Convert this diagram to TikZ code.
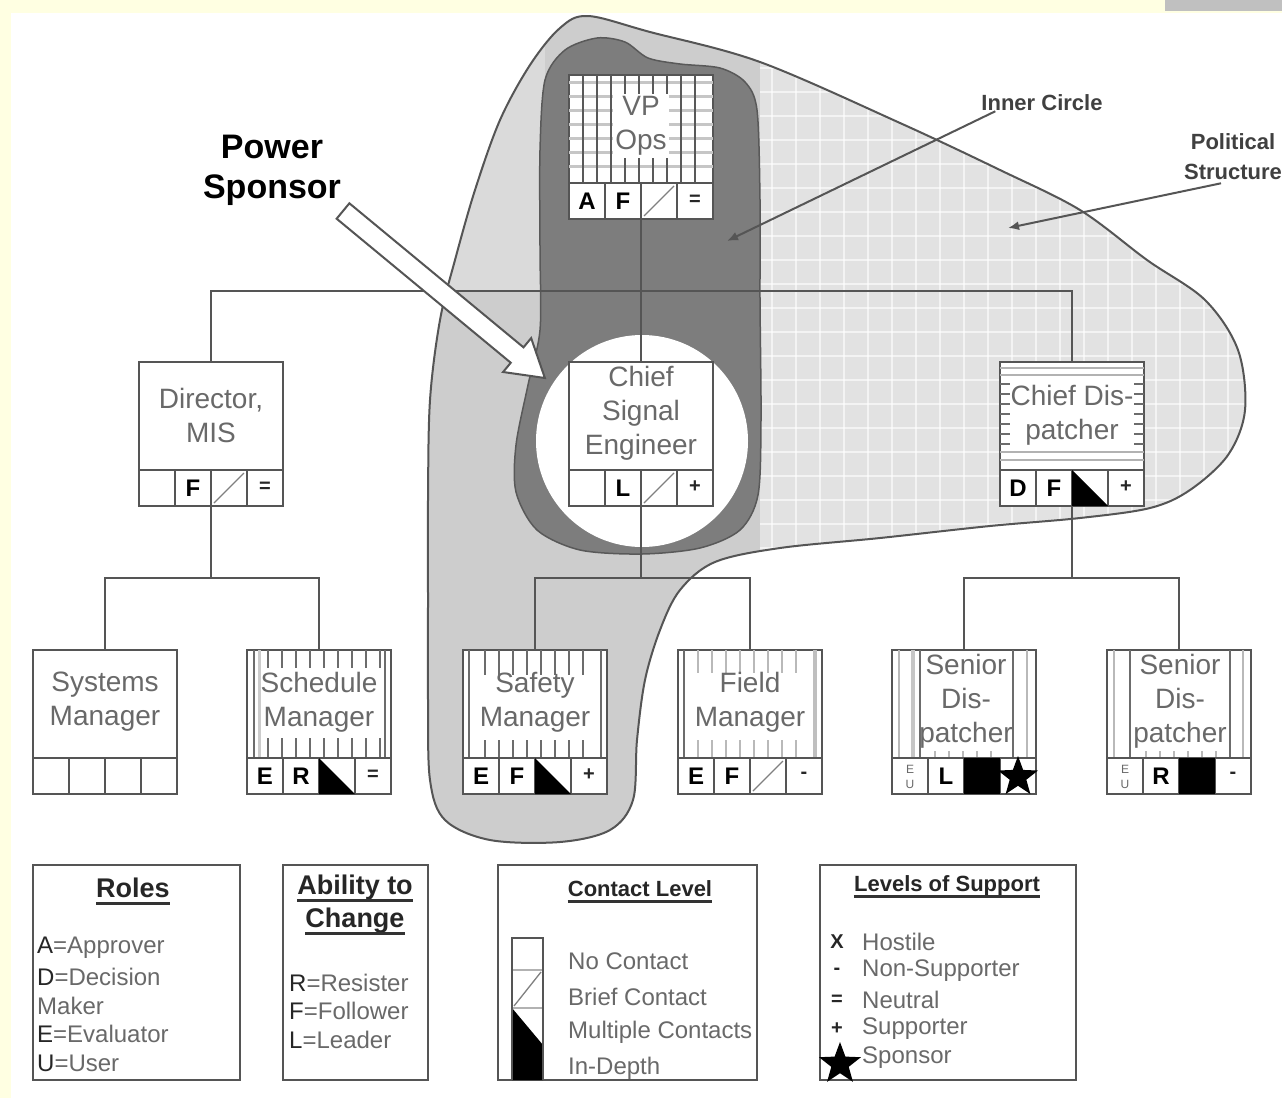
\documentclass[tikz,border=0pt]{standalone}
\usepackage{fontspec}
\setmainfont{Liberation Sans}
\usetikzlibrary{shapes.geometric,arrows.meta,calc}
\definecolor{bgyellow}{RGB}{255,255,226}
\definecolor{barg}{RGB}{192,192,192}
\definecolor{linec}{RGB}{85,85,85}
\definecolor{txtc}{RGB}{105,105,105}
\definecolor{blobA}{RGB}{205,205,205}
\definecolor{blobB}{RGB}{226,226,226}
\definecolor{blobC}{RGB}{218,218,218}
\definecolor{innerc}{RGB}{125,125,125}
\newcommand\fs[2]{\fontsize{#1}{#2}\selectfont}
\tikzset{
  conn/.style={draw=linec, line width=2},
  obox/.style={draw=linec, line width=2.5, fill=white, minimum width=144, minimum height=144, inner sep=0, outer sep=0, anchor=north west},
  cellline/.style={draw=linec, line width=2.5},
  slashl/.style={draw=gray, line width=1.3},
  lbl/.style={text=txtc, font=\fs{28}{34}, align=center, inner sep=1},
  cellt/.style={font=\bfseries\fs{24}{24}, text=black, inner sep=0},
  symt/.style={font=\bfseries\fs{20}{20}, text=black!85, inner sep=0},
  eut/.style={font=\fs{12}{15}, text=txtc, align=center, inner sep=0},
  legbox/.style={draw=linec, line width=2.5, fill=white, inner sep=0, outer sep=0, anchor=north west},
  legtitle/.style={font=\bfseries\fs{27}{33}, text=black!85, inner sep=0},
  legtitles/.style={font=\bfseries\fs{22}{26}, text=black!85, inner sep=0},
  legitem/.style={font=\fs{24}{29}, text=txtc, inner sep=0, anchor=west},
  uline/.style={draw=black!80, line width=3},
  pointer/.style={draw=linec, line width=2, -{Latex[length=11pt,width=9pt]}},
  ptlabel/.style={font=\bfseries\fs{22}{30}, text=black!75, align=center, inner sep=0},
  tick/.style={draw=gray!85!black, line width=1.6},
  ltick/.style={draw=gray!55, line width=1.6},
}
% cell helpers: #1 left, #2 top, #3 index (1..4)
\newcommand\cslash[3]{\draw[slashl] (#1+36*#3-33,#2+141) -- (#1+36*#3-3,#2+111);}
\newcommand\ctri[3]{\fill[black] (#1+36*#3-36,#2+108) -- (#1+36*#3-36,#2+144) -- (#1+36*#3,#2+144) -- cycle;}
\newcommand\csq[3]{\fill[black] (#1+36*#3-36,#2+108) rectangle (#1+36*#3,#2+144);}
\newcommand\ctext[5]{\node[cellt] (#1) at (#2+36*#4-18,#3+126) {#5};}
\newcommand\csym[5]{\node[symt] (#1) at (#2+36*#4-18,#3+125) {#5};}
\newcommand\rowlines[2]{%
  \draw[cellline] (#1,#2+108) -- (#1+144,#2+108);
  \foreach \i in {1,2,3} {\draw[cellline] (#1+36*\i,#2+108) -- (#1+36*\i,#2+144);}
}
\begin{document}
\begin{tikzpicture}[x=1pt,y=-1pt]
\useasboundingbox (0,0) rectangle (1282,1098);
% background
\fill[bgyellow] (0,0) rectangle (1282,1098);
\fill[white] (11,13) rectangle (1282,1098);
\fill[barg] (1165,0) rectangle (1282,11);

% political structure
\def\blobpath{plot[smooth cycle, tension=0.55] coordinates {(588,16) (650,32) (760,62) (900,123) (1000,170) (1080,210) (1147,260) (1205,300) (1238,350) (1245,410) (1228,455) (1190,490) (1150,508) (1080,518) (990,526) (880,538) (780,548) (715,562) (680,590) (660,630) (645,680) (637,740) (633,800) (610,830) (560,842) (490,840) (445,820) (430,780) (428,700) (428,600) (428,500) (430,400) (440,320) (455,260) (475,190) (500,120) (530,65) (560,28)}}
\fill[blobA] \blobpath;
\begin{scope}
  \clip \blobpath;
  \fill[blobC] (0,0) rectangle (545,290);
  \fill[blobB] (760,0) rectangle (1282,560);
  \foreach \g in {772,796,...,1260} {\draw[white, line width=2, opacity=.6] (\g,0) -- (\g,560);}
  \foreach \g in {20,44,...,560} {\draw[white, line width=2, opacity=.6] (760,\g) -- (1282,\g);}
\end{scope}
\draw[linec, line width=2] \blobpath;

% inner circle
\filldraw[fill=innerc, draw=black!65, line width=1.5] plot[smooth cycle, tension=0.5] coordinates {(545,80) (565,50) (597,38) (625,42) (648,58) (680,64) (720,68) (745,82) (757,110) (760,200) (760,300) (761,420) (758,495) (740,530) (700,548) (642,554) (580,550) (537,530) (516,492) (516,445) (528,385) (540,330) (540,250) (540,150)};
\fill[white] (642,441) circle[radius=106];

% ---------- boxes ----------
% VP Ops
\node[obox] (vp) at (569,75) {};
\begin{scope}
  \clip (569,75) rectangle (713,183);
  \foreach \y in {82,96,...,168} {\draw[draw=gray!45, line width=3] (569,\y) -- (713,\y);}
  \foreach \x in {583,597,...,700} {\draw[draw=gray!70!black, line width=1.6] (\x,75) -- (\x,183);}
\end{scope}
\rowlines{569}{75}
\node[lbl, fill=white, inner sep=2] (vpL) at (641,126) {VP\\Ops};
\ctext{vpA}{569}{75}{1}{A}
\ctext{vpF}{569}{75}{2}{F}
\cslash{569}{75}{3}
\csym{vpS}{569}{75}{4}{=}

% Director MIS
\node[obox] (dir) at (139,362) {};
\rowlines{139}{362}
\node[lbl] (dirL) at (211,415) {Director,\\MIS};
\ctext{dirF}{139}{362}{2}{F}
\cslash{139}{362}{3}
\csym{dirS}{139}{362}{4}{=}

% Chief Signal Engineer
\node[obox] (cse) at (569,362) {};
\rowlines{569}{362}
\node[lbl] (cseL) at (641,413) {Chief\\Signal\\Engineer};
\ctext{cseL2}{569}{362}{2}{L}
\cslash{569}{362}{3}
\csym{cseS}{569}{362}{4}{+}

% Chief Dispatcher
\node[obox] (cd) at (1000,362) {};
\draw[draw=gray!60, line width=1.8] (1000,368) -- (1144,368) (1000,375) -- (1144,375) (1000,452) -- (1144,452) (1000,460) -- (1144,460);
\foreach \y in {384,394,...,444} {\draw[tick] (1000,\y) -- (1010,\y) (1134,\y) -- (1144,\y);}
\rowlines{1000}{362}
\node[lbl] (cdL) at (1072,415) {Chief Dis-\\patcher};
\ctext{cdD}{1000}{362}{1}{D}
\ctext{cdF}{1000}{362}{2}{F}
\ctri{1000}{362}{3}
\csym{cdS}{1000}{362}{4}{+}

% Systems Manager
\node[obox] (sys) at (33,650) {};
\rowlines{33}{650}
\node[lbl] (sysL) at (105,702) {Systems\\Manager};

% Schedule Manager
\node[obox] (sch) at (247,650) {};
\foreach \x in {268,282,...,380} {\draw[tick] (\x,650) -- (\x,668) (\x,738) -- (\x,758);}
\draw[tick] (254,650) -- (254,758);
\draw[draw=gray!40, line width=3] (259,650) -- (259,758);
\draw[tick] (385,650) -- (385,758);
\rowlines{247}{650}
\node[lbl] (schL) at (319,702) {Schedule\\Manager};
\ctext{schE}{247}{650}{1}{E}
\ctext{schR}{247}{650}{2}{R}
\ctri{247}{650}{3}
\csym{schS}{247}{650}{4}{=}

% Safety Manager
\node[obox] (saf) at (463,650) {};
\foreach \x in {485,499,...,590} {\draw[tick] (\x,650) -- (\x,675) (\x,740) -- (\x,758);}
\draw[tick] (469,650) -- (469,758);
\draw[tick] (601,650) -- (601,758);
\rowlines{463}{650}
\node[lbl] (safL) at (535,702) {Safety\\Manager};
\ctext{safE}{463}{650}{1}{E}
\ctext{safF}{463}{650}{2}{F}
\ctri{463}{650}{3}
\csym{safS}{463}{650}{4}{+}

% Field Manager
\node[obox] (fie) at (678,650) {};
\foreach \x in {698,712,...,800} {\draw[ltick] (\x,650) -- (\x,673) (\x,740) -- (\x,758);}
\draw[tick] (684,650) -- (684,758);
\draw[draw=gray!50, line width=4] (815,650) -- (815,758);
\rowlines{678}{650}
\node[lbl] (fieL) at (750,702) {Field\\Manager};
\ctext{fieE}{678}{650}{1}{E}
\ctext{fieF}{678}{650}{2}{F}
\cslash{678}{650}{3}
\csym{fieS}{678}{650}{4}{-}

% Senior Dispatcher 1
\node[obox] (sen1) at (892,650) {};
\draw[ltick] (899,650) -- (899,758);
\draw[draw=gray!45, line width=4] (913,650) -- (913,758);
\draw[tick] (920,650) -- (920,758);
\draw[tick] (1013,650) -- (1013,758);
\draw[ltick] (1027,650) -- (1027,758);
\foreach \x in {935,949,...,1000} {\draw[ltick] (\x,751) -- (\x,758);}
\rowlines{892}{650}
\node[lbl] (sen1L) at (966,701) {Senior\\Dis-\\patcher};
\node[eut] (sen1EU) at (910,777) {E\\U};
\ctext{sen1L2}{892}{650}{2}{L}
\csq{892}{650}{3}
\node[star, star points=5, star point ratio=2.4, fill=black, minimum size=42, inner sep=0] (sen1St) at (1018,777) {};

% Senior Dispatcher 2
\node[obox] (sen2) at (1107,650) {};
\draw[ltick] (1114,650) -- (1114,758);
\draw[tick] (1130,650) -- (1130,758);
\draw[tick] (1230,650) -- (1230,758);
\draw[ltick] (1243,650) -- (1243,758);
\foreach \x in {1146,1160,...,1216} {\draw[ltick] (\x,751) -- (\x,758);}
\rowlines{1107}{650}
\node[lbl] (sen2L) at (1180,701) {Senior\\Dis-\\patcher};
\node[eut] (sen2EU) at (1125,777) {E\\U};
\ctext{sen2R}{1107}{650}{2}{R}
\csq{1107}{650}{3}
\csym{sen2S}{1107}{650}{4}{-}

% ---------- connectors ----------
\coordinate (bus1) at (641,291);
\draw[conn] (dir.north) |- (bus1) -| (cd.north);
\draw[conn] (vp.south) -- (cse.north);
\coordinate (b2a) at (211,578);
\draw[conn] (dir.south) -- (b2a);
\draw[conn] (sys.north) |- (b2a) -| (sch.north);
\coordinate (b2b) at (641,578);
\draw[conn] (cse.south) -- (b2b);
\draw[conn] (saf.north) |- (b2b) -| (fie.north);
\coordinate (b2c) at (1072,578);
\draw[conn] (cd.south) -- (b2c);
\draw[conn] (sen1.north) |- (b2c) -| (sen2.north);

% ---------- Power Sponsor ----------
\node[font=\bfseries\fs{34}{40}, align=center, inner sep=0] (pwr) at (272,170) {Power\\Sponsor};
\begin{scope}[shift={(343,211)}, rotate=-39.6]
  \filldraw[fill=white, draw=linec, line width=2] (0,-10) -- (226,-10) -- (226,-22) -- (262,0) -- (226,22) -- (226,10) -- (0,10) -- cycle;
\end{scope}

% ---------- pointers ----------
\node[ptlabel] (icLab) at (1042,103) {Inner Circle};
\coordinate (icT) at (727,241);
\draw[pointer] ([xshift=14pt]icLab.south west) -- (icT);
\node[ptlabel] (psLab) at (1233,157) {Political\\Structure};
\coordinate (psT) at (1008,228);
\draw[pointer] ([xshift=-12pt,yshift=-3pt]psLab.south) -- (psT);

% ---------- legends ----------
% Roles
\node[legbox, minimum width=207, minimum height=215] (roles) at (33,865) {};
\node[legtitle] (rolesT) at (133,888) {Roles};
\draw[uline] ([yshift=-6pt]rolesT.base west) -- ([yshift=-6pt]rolesT.base east);
\node[legitem] (r1) at (37,948) {\textcolor{black!85}{A}=Approver};
\node[legitem] (r2) at (37,977) {\textcolor{black!85}{D}=Decision};
\node[legitem] (r3) at (37,1006) {Maker};
\node[legitem] (r4) at (37,1034) {\textcolor{black!85}{E}=Evaluator};
\node[legitem] (r5) at (37,1063) {\textcolor{black!85}{U}=User};

% Ability to Change
\node[legbox, minimum width=145, minimum height=215] (abil) at (283,865) {};
\node[legtitle] (abT1) at (355,888) {Ability to};
\draw[uline] ([yshift=-6pt]abT1.base west) -- ([yshift=-6pt]abT1.base east);
\node[legtitle] (abT2) at (355,921) {Change};
\draw[uline] ([yshift=-6pt]abT2.base west) -- ([yshift=-6pt]abT2.base east);
\node[legitem] (a1) at (289,983) {\textcolor{black!85}{R}=Resister};
\node[legitem] (a2) at (289,1011) {\textcolor{black!85}{F}=Follower};
\node[legitem] (a3) at (289,1040) {\textcolor{black!85}{L}=Leader};

% Contact Level
\node[legbox, minimum width=259, minimum height=215] (cont) at (498,865) {};
\node[legtitles] (coT) at (640,889) {Contact Level};
\draw[uline] ([yshift=-5pt]coT.base west) -- ([yshift=-5pt]coT.base east);
\fill[black] (512,1008) -- (512,1080) -- (543,1080) -- (543,1045) -- cycle;
\draw[draw=gray!60, line width=2] (512,970) -- (543,970) (512,1008) -- (543,1008);
\draw[slashl] (514,1006) -- (541,972);
\draw[draw=linec, line width=2] (512,1080) -- (512,938) -- (543,938) -- (543,1080);
\node[legitem] (c1) at (568,961) {No Contact};
\node[legitem] (c2) at (568,997) {Brief Contact};
\node[legitem] (c3) at (568,1032) {Multiple Contacts};
\node[legitem] (c4) at (568,1068) {In-Depth};

% Levels of Support
\node[legbox, minimum width=256, minimum height=215] (los) at (820,865) {};
\node[legtitles] (loT) at (947,886) {Levels of Support};
\draw[uline] ([yshift=-5pt]loT.base west) -- ([yshift=-5pt]loT.base east);
\node[symt] (l1s) at (837,942) {X};
\node[symt] (l2s) at (837,971) {-};
\node[symt] (l3s) at (837,1000) {=};
\node[symt] (l4s) at (837,1029) {+};
\node[star, star points=5, star point ratio=2.4, fill=black, minimum size=44, inner sep=0] (l5s) at (840,1064) {};
\node[legitem] (l1) at (862,942) {Hostile};
\node[legitem] (l2) at (862,971) {Non-Supporter};
\node[legitem] (l3) at (862,1000) {Neutral};
\node[legitem] (l4) at (862,1029) {Supporter};
\node[legitem] (l5) at (862,1058) {Sponsor};
\end{tikzpicture}
\end{document}
